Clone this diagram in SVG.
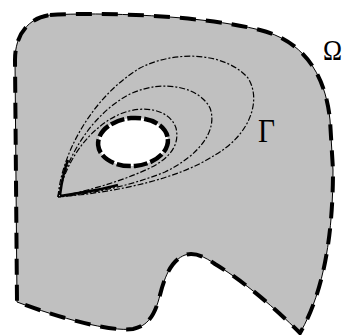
<svg xmlns="http://www.w3.org/2000/svg" width="345" height="335" viewBox="0 0 345 335">
<style>
.dom{fill:#c0c0c0;stroke:#000;stroke-width:1}
.domd{fill:none;stroke:#000;stroke-width:4;stroke-dasharray:16 10}
.hole{fill:#fff;stroke:#000;stroke-width:4.5;stroke-dasharray:14 3}
.lev{fill:none;stroke:#000;stroke-width:1.2;stroke-dasharray:6 2 2 2}
.lbl{font-family:"Liberation Serif",serif;fill:#000}
</style>
<rect width="345" height="335" fill="#fff"/>
<g id="omega">
<path class="dom" d="M50,15 C100,12 200,15 260,30 C300,40 325,70 330,120 L333,170 C333,230 325,290 300,333 C285,318 250,285 215,264 C205,257 195,252 185,255 C172,260 165,275 160,295 C155,315 148,326 133,329 C110,332 60,318 17,302 L15,60 C15,35 28,18 50,15 Z"/>
<path class="domd" d="M50,15 C100,12 200,15 260,30 C300,40 325,70 330,120 L333,170 C333,230 325,290 300,333 C285,318 250,285 215,264 C205,257 195,252 185,255 C172,260 165,275 160,295 C155,315 148,326 133,329 C110,332 60,318 17,302 L15,60 C15,35 28,18 50,15 Z"/>
</g>
<g id="levels">
<path class="lev" d="M58,197 C62,150 95,95 140,68 C175,50 225,52 248,78 C262,100 250,135 215,155 C180,178 120,192 58,197"/>
<path class="lev" d="M58,197 C65,160 90,115 130,94 C165,78 200,88 210,108 C218,130 200,155 165,172 C130,186 95,193 58,197"/>
<path class="lev" d="M58,197 C65,165 85,130 120,114 C145,104 170,110 176,128 C180,145 170,158 150,168 C120,182 90,190 58,197"/>
<path fill="none" stroke="#000" stroke-width="2.5" d="M60,195 C62,180 64,170 68,160 M60,196 C80,193 100,190 118,185"/>
</g>
<g id="hole">
<ellipse class="hole" cx="133" cy="142" rx="35" ry="24" transform="rotate(-5 133 142)"/>
</g>
<g id="labels">
<text class="lbl" x="258" y="142" font-size="34" textLength="17" lengthAdjust="spacingAndGlyphs">Γ</text>
<text class="lbl" x="323" y="60" font-size="30" textLength="19" lengthAdjust="spacingAndGlyphs">Ω</text>
</g>
</svg>
